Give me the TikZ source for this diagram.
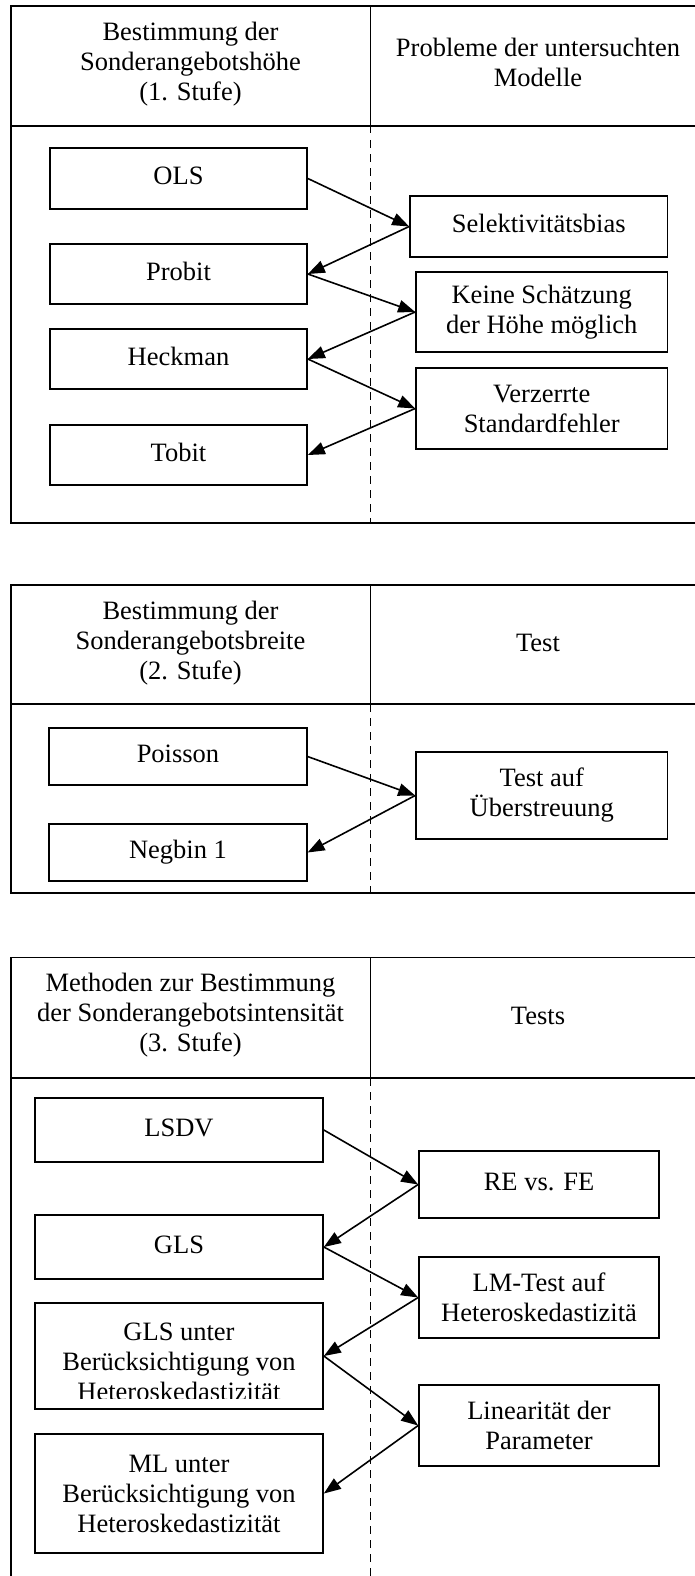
\documentclass[tikz,border=0pt]{standalone}
\usepackage{fontspec}
\setmainfont{Liberation Serif}
\usetikzlibrary{arrows.meta}
\newcommand{\diagfont}{\fontsize{26.5}{30}\selectfont}
\begin{document}
\begin{tikzpicture}[x=1pt,y=-1pt,
  frame/.style={line width=1.8pt},
  divider/.style={line width=1.6pt, dash pattern=on 7.5pt off 6.5pt},
  box/.style={draw, line width=1.7pt, inner sep=0pt, align=center, font=\diagfont},
  single/.style={text height=18pt, text depth=6pt},
  txt/.style={inner sep=0pt, align=center, font=\diagfont},
  arr/.style={-{Triangle[length=17pt,width=12.5pt]}, line width=1.6pt}]
\useasboundingbox (0,0) rectangle (695,1576);

% ---------- Section 1 ----------
\draw[frame] (695,6) -- (11,6) -- (11,523) -- (695,523);
\draw[frame] (11,126) -- (695,126);
\draw[frame] (370.5,6) -- (370.5,126);
\draw[divider] (370.5,126) -- (370.5,523);
\node[txt] (h1a) at (190.5,64) {Bestimmung der\\Sonderangebotshöhe\\(1. Stufe)};
\node[txt] (h1b) at (538,62.5) {Probleme der untersuchten\\Modelle};

\node[box,single,minimum width=257pt,minimum height=61pt] (ols) at (178.5,178.5) {OLS};
\node[box,single,minimum width=257pt,minimum height=60pt] (probit) at (178.5,274) {Probit};
\node[box,single,minimum width=257pt,minimum height=60pt] (heckman) at (178.5,359) {Heckman};
\node[box,single,minimum width=257pt,minimum height=60pt] (tobit) at (178.5,455) {Tobit};
\node[box,single,minimum width=257.5pt,minimum height=61pt] (sel) at (538.75,226.5) {Selektivitätsbias};
\node[box,minimum width=251.5pt,minimum height=80pt] (keine) at (541.75,312) {Keine Schätzung\\der Höhe möglich};
\node[box,minimum width=251.5pt,minimum height=81pt] (verz) at (541.75,408.5) {Verzerrte\\Standardfehler};

\draw[arr] (ols.east) -- (sel.west);
\draw[arr] (sel.west) -- (probit.east);
\draw[arr] (probit.east) -- (keine.west);
\draw[arr] (keine.west) -- (heckman.east);
\draw[arr] (heckman.east) -- (verz.west);
\draw[arr] (verz.west) -- (tobit.east);

% ---------- Section 2 ----------
\draw[frame] (695,585) -- (11,585) -- (11,893) -- (695,893);
\draw[frame] (11,704) -- (695,704);
\draw[frame] (370.5,585) -- (370.5,704);
\draw[divider] (370.5,704) -- (370.5,893);
\node[txt] (h2a) at (190.5,643) {Bestimmung der\\Sonderangebotsbreite\\(2. Stufe)};
\node[txt,single] (h2b) at (538,645) {Test};

\node[box,single,minimum width=257.5pt,minimum height=57pt] (poisson) at (178,756.5) {Poisson};
\node[box,single,minimum width=257.5pt,minimum height=57pt] (negbin) at (178,852.5) {Negbin 1};
\node[box,minimum width=251.5pt,minimum height=87pt] (test) at (541.75,795.5) {Test auf\\Überstreuung};

\draw[arr] (poisson.east) -- (test.west);
\draw[arr] (test.west) -- (negbin.east);

% ---------- Section 3 ----------
\draw[frame] (695,957.5) -- (11,957.5) -- (11,1576);
\draw[frame] (11,1078) -- (695,1078);
\draw[frame] (370.5,957.5) -- (370.5,1078);
\draw[divider] (370.5,1078) -- (370.5,1576);
\node[txt] (h3a) at (190.5,1015.5) {Methoden zur Bestimmung\\der Sonderangebotsintensität\\(3. Stufe)};
\node[txt,single] (h3b) at (538,1018) {Tests};

\node[box,single,minimum width=288pt,minimum height=64pt] (lsdv) at (179,1130) {LSDV};
\node[box,single,minimum width=288pt,minimum height=64pt] (gls) at (179,1247) {GLS};
\node[box,minimum width=288pt,minimum height=106pt] (glsu) at (179,1356) {};
\begin{scope}
  \clip (36,1303) rectangle (322,1398);
  \node[txt] (glsut) at (179,1362) {GLS unter\\Berücksichtigung von\\Heteroskedastizität};
\end{scope}
\node[box,minimum width=288pt,minimum height=119pt] (ml) at (179,1493.5) {ML unter\\Berücksichtigung von\\Heteroskedastizität};
\node[box,single,minimum width=240pt,minimum height=67pt] (re) at (539,1184.5) {RE vs. FE};
\node[box,minimum width=240pt,minimum height=81pt] (lm) at (539,1297.5) {LM-Test auf\\Heteroskedastizitä};
\node[box,minimum width=240pt,minimum height=81pt] (lin) at (539,1425.5) {Linearität der\\Parameter};

\draw[arr] (lsdv.east) -- (re.west);
\draw[arr] (re.west) -- (gls.east);
\draw[arr] (gls.east) -- (lm.west);
\draw[arr] (lm.west) -- (glsu.east);
\draw[arr] (glsu.east) -- (lin.west);
\draw[arr] (lin.west) -- (ml.east);
\end{tikzpicture}
\end{document}
